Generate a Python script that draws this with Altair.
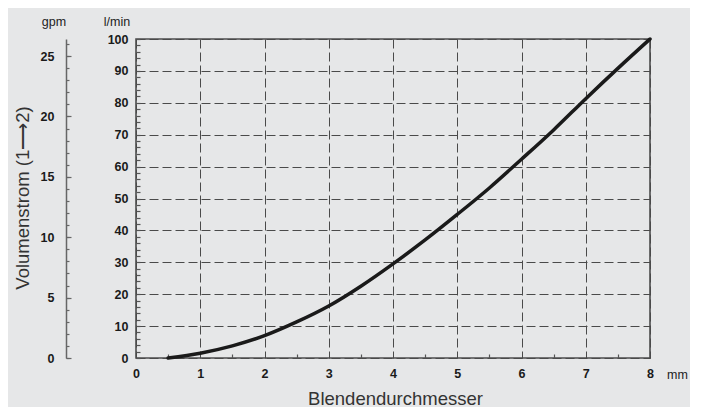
import altair as alt
import pandas as pd

# ---- data ----
diameter_mm = [0.5, 1.0, 1.5, 2.0, 2.5, 3.0, 3.5, 4.0, 4.5, 5.0, 5.5, 6.0, 6.5, 7.0, 7.5, 8.0]
flow_lmin = [0.0, 1.5, 3.8, 7.0, 11.3, 16.3, 22.5, 29.5, 37.0, 45.0, 53.3, 62.3, 71.5, 81.3, 90.8, 100.0]
LMIN_PER_GPM = 3.78541
flow_gpm = [v / LMIN_PER_GPM for v in flow_lmin]

x_major = [0, 1, 2, 3, 4, 5, 6, 7, 8]
x_minor = [0.5, 1.5, 2.5, 3.5, 4.5, 5.5, 6.5, 7.5]
y_major = [0, 10, 20, 30, 40, 50, 60, 70, 80, 90, 100]
y_minor = list(range(0, 101, 2))
gpm_major = [0, 5, 10, 15, 20, 25]
gpm_minor = list(range(0, 27))

W, H = 514, 319
GPM_OFFSET = 70

df = pd.DataFrame({"d": diameter_mm, "q": flow_lmin, "g": flow_gpm})
base = alt.Chart(df)

xs = alt.Scale(domain=[0, 8], nice=False, zero=False)
ys = alt.Scale(domain=[0, 100], nice=False)
gs = alt.Scale(domain=[0, 100 / LMIN_PER_GPM], nice=False)

LABEL_FONT = "Liberation Sans"
GRID = dict(grid=True, gridColor="#4a4a4a", gridDash=[9, 4], gridWidth=1)

curve = base.mark_line(color="#1a1a1a", strokeWidth=3.5, interpolate="monotone", strokeCap="round").encode(
    x=alt.X("d:Q", scale=xs, axis=alt.Axis(
        values=x_major, ticks=False, domain=False, labelPadding=9, labelFlush=False,
        title="Blendendurchmesser", titleX=259, titleY=46, titleAlign="center",
        titleBaseline="alphabetic", titleFontSize=18.5, titleFontWeight="normal", titleColor="#333",
        **GRID)),
    y=alt.Y("q:Q", scale=ys, axis=alt.Axis(
        values=y_major, ticks=False, domain=False, labelPadding=8, labelFlush=False,
        title="l/min", titleAngle=0, titleX=-19.5, titleY=-14, titleAlign="center",
        titleBaseline="alphabetic", titleFontSize=12.5, titleFontWeight="normal", titleColor="#222",
        **GRID)),
)

minor_lmin = base.mark_line(opacity=0).encode(
    x=alt.X("d:Q", scale=xs, axis=alt.Axis(
        orient="top", offset=-H, values=x_minor, labels=False, domain=False, grid=False,
        tickSize=4, tickColor="#555", tickWidth=1.2,
        title="mm", titleX=541, titleY=20, titleAlign="center", titleBaseline="alphabetic",
        titleFontSize=12.5, titleFontWeight="normal", titleColor="#222")),
    y=alt.Y("q:Q", scale=ys, axis=alt.Axis(
        orient="right", offset=-W, values=y_minor, labels=False, domain=False, grid=False,
        tickSize=4, tickColor="#555", tickWidth=1.2, title=None)),
)

gpm_major_layer = base.mark_line(opacity=0).encode(
    x=alt.X("d:Q", scale=xs, axis=None),
    y=alt.Y("g:Q", scale=gs, axis=alt.Axis(
        orient="right", offset=-(W + GPM_OFFSET), values=gpm_major, grid=False,
        domain=True, domainColor="#666", domainWidth=1.5,
        tickSize=5, tickColor="#666", tickWidth=1.2,
        labelAlign="right", labelPadding=-17, labelFlush=False,
        title="gpm", titleAngle=0, titleX=-12.5, titleY=-14, titleAlign="center",
        titleBaseline="alphabetic", titleFontSize=12.5, titleFontWeight="normal", titleColor="#222")),
)

gpm_minor_layer = base.mark_line(opacity=0).encode(
    x=alt.X("d:Q", scale=xs, axis=None),
    y=alt.Y("g:Q", scale=gs, axis=alt.Axis(
        orient="right", offset=-(W + GPM_OFFSET), values=gpm_minor, labels=False, grid=False,
        domain=False, tickSize=3, tickColor="#666", tickWidth=1.2,
        title="Volumenstrom (1\u27f62)", titleAngle=270, titleX=-37.7, titleY=158.5,
        titleAlign="center", titleBaseline="alphabetic", titleFontSize=18.5,
        titleFontWeight="normal", titleColor="#333")),
)

chart = (
    alt.layer(curve, minor_lmin, gpm_major_layer, gpm_minor_layer)
    .resolve_scale(x="independent", y="independent")
    .properties(
        width=W, height=H,
        autosize=alt.AutoSizeParams(type="none"),
        padding={"left": 128, "top": 31, "right": 40, "bottom": 49},
        background="#e6e7e8",
    )
    .configure_view(stroke="#4d4d4d", strokeWidth=1.6)
    .configure_axis(labelFont=LABEL_FONT, titleFont=LABEL_FONT, labelFontSize=12.5,
                    labelColor="#1a1a1a", labelFontWeight="bold")
)

chart.save("out.html", embed_options={"renderer": "svg", "actions": False})
